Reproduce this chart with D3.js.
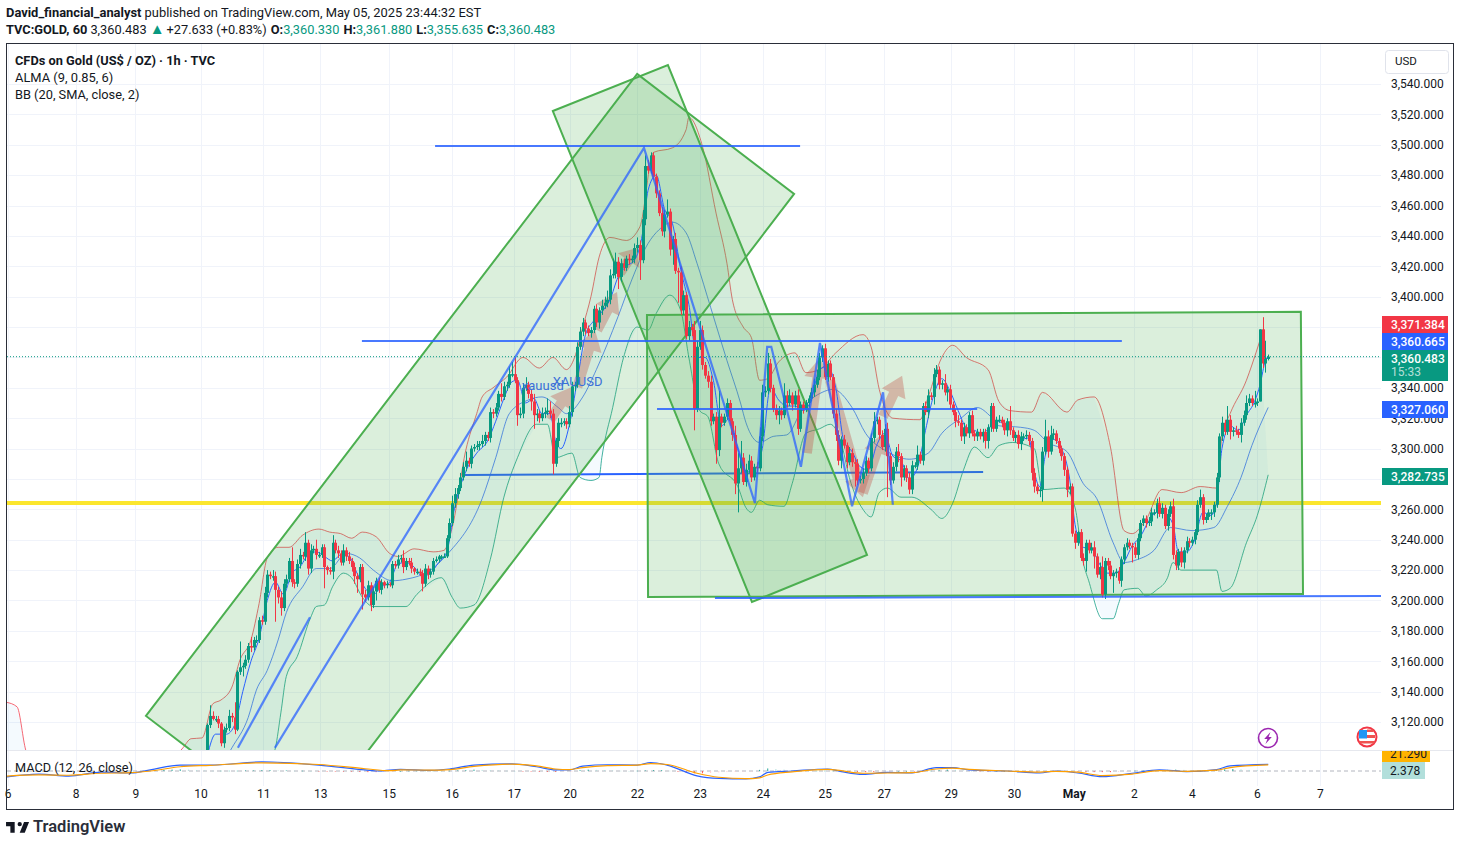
<!DOCTYPE html>
<html>
<head>
<meta charset="utf-8">
<script src="https://cdn.jsdelivr.net/npm/d3@7"></script>
<style>
html,body{margin:0;padding:0;background:#fff;}
svg{display:block;}
text{font-family:Roboto,"Liberation Sans",sans-serif;fill:#131722;}
</style>
</head>
<body>
<svg id="chart" width="1460" height="846"></svg>
<script>
// hourly closes. open of a bar = close of the bar before
var closes = [
3095,3118,3124,3122,3122,3119,3106,3115,3116,3124,
3123,3115,3153,3156,3157,3161,3170,3169,3174,3174,
3187,3186,3205,3217,3216,3216,3207,3202,3195,3211,
3214,3226,3212,3211,3224,3230,3229,3238,3221,3233,
3234,3230,3230,3235,3222,3220,3219,3238,3233,3231,
3225,3233,3229,3226,3222,3216,3214,3222,3204,3202,
3210,3197,3206,3213,3207,3212,3210,3211,3210,3224,
3223,3227,3228,3222,3226,3225,3221,3219,3219,3218,
3211,3221,3217,3219,3226,3227,3229,3229,3229,3241,
3251,3264,3270,
3274,3281,3288,3292,3290,3300,3301,3302,3303,3305,
3309,3307,3324,3323,3327,3336,3334,3341,3342,3349,
3349,3345,3322,3323,3340,3342,3336,3331,3322,3323,
3320,3323,3324,3325,3323,3290,3305,3317,3317,3318,
3316,3324,3341,3342,3367,3377,3383,3379,3376,3378,
3392,3383,3391,3394,3396,3398,3414,3415,3423,3413,
3422,3419,3425,3424,3425,3432,3434,3424,3451,3486,
3483,3493,3479,3468,3455,3443,3454,3456,3431,3438,
3417,3416,3391,3401,3374,3380,3378,
3326,3367,3378,3355,3348,3344,3318,3321,3299,3321,3317,
3321,3330,3318,3309,3277,3287,3294,3278,3286,3292,
3281,3288,3287,3308,3337,3338,3356,3340,3326,3322,
3325,3322,3335,3330,3335,3329,3335,3313,3329,3326,
3330,3333,3337,3342,3347,3360,3366,3347,3356,3347,
3323,3309,3292,3306,3302,3291,3297,3291,3290,3279,
3280,3284,3292,3287,3307,3318,3319,3309,3301,3313,
3295,3279,3288,3298,3295,3281,3287,3281,3273,3289,
3289,3296,3292,3328,3324,3335,3334,3349,3352,3342,
3343,3337,3339,3329,3324,3318,3317,3308,3314,3310,
3322,3310,3308,3311,3308,3311,3305,3314,3328,3313,3319,
3319,3317,3312,3318,3312,3307,3309,3303,3308,3308,
3309,3305,3284,3275,3272,3273,3298,3308,3298,3309,
3310,3305,3300,3295,3286,3273,3275,3244,3238,3245,
3228,3226,3238,3233,3235,3229,3217,3222,3204,3226,
3223,3216,3218,3219,3213,3227,3235,3238,3236,3235,
3230,3241,3251,3254,3251,3252,3258,3258,3264,3257,
3261,3249,3257,3262,3230,3223,3232,3225,3233,3239,
3238,3240,3245,3263,3268,3253,3255,3258,3258,3263,
3281,3308,3317,3311,3319,3311,3312,3311,3309,3317,
3322,3330,3333,3330,3330,3331,3378.5,3356,3359,3360.483
];
// wick length above the body, same order as closes
var wickUp = [
0,1,7,3,2,2,1,2,3,4,
2,10,1,17,2,3,2,6,2,3,
2,3,4,3,2,4,3,2,4,3,
3,2,9,2,3,4,2,7,2,4,
2,6,2,2,2,1,2,5,2,3,
2,4,2,3,2,3,2,2,2,3,
3,2,3,2,2,2,1,2,1,2,
2,3,2,5,2,2,3,1,2,2,
2,3,2,2,2,2,1,1,2,2,
3,5,4,
2,3,3,6,2,2,2,3,2,4,
2,2,3,2,3,2,7,3,2,5,
8,11,2,4,3,5,2,3,5,3,
2,4,3,8,6,3,2,3,3,2,
2,4,3,2,3,3,3,2,2,2,
2,3,2,4,4,6,4,10,6,3,
3,3,2,3,2,3,5,3,6,7,
4,2,2,2,2,4,3,8,2,2,
4,2,4,3,2,4,2,
6,4,6,3,2,3,4,2,3,17,2,
2,3,2,2,6,10,11,3,4,4,
3,2,3,6,5,3,7,3,2,3,
3,2,8,3,4,2,3,4,2,2,
2,2,3,4,5,3,2,3,2,2,
2,3,3,2,3,2,4,3,2,3,
2,3,3,2,3,6,2,2,3,3,
4,2,3,3,5,2,2,2,3,3,
2,6,2,2,3,4,2,4,3,2,
2,6,2,3,2,2,4,2,3,2,
2,3,2,2,2,2,2,2,2,2,2,
3,2,2,2,10,2,2,3,3,2,
3,2,2,3,2,2,3,11,4,6,
3,2,2,2,2,2,2,2,2,1,
2,3,2,2,3,4,2,3,7,2,
2,3,2,2,3,2,2,3,2,2,
3,3,2,2,2,3,3,2,3,4,
3,2,3,3,5,3,2,3,2,3,
2,2,2,3,5,2,2,2,2,2,
3,2,4,2,9,3,2,3,2,3,
3,5,3,2,8,2,0,8,12,1.4
];
// wick length below the body
var wickDn = [
0,2,2,1,2,3,2,3,2,2,
3,3,1,2,6,2,2,3,2,2,
2,2,2,3,2,3,21,4,5,2,
3,2,3,3,2,3,2,3,4,3,
2,3,2,2,14,3,2,5,2,3,
2,2,3,2,3,5,9,2,10,3,
2,4,2,6,2,3,2,2,1,2,
2,2,2,4,2,2,3,2,2,2,
5,2,3,2,2,1,2,2,1,1,
2,2,3,
3,2,2,3,2,3,2,2,3,2,
3,2,3,3,2,2,3,2,3,2,
2,2,7,2,3,2,3,6,9,4,
3,2,3,2,3,7,2,4,3,2,
3,2,3,3,2,2,3,4,2,3,
2,3,4,3,2,3,3,2,3,8,
3,2,2,3,2,3,3,13,2,4,
2,2,2,3,2,3,4,2,4,10,
2,20,3,3,2,3,4,
14,2,2,3,2,4,3,2,9,4,3,
2,2,3,4,7,19,3,2,3,2,
3,2,3,2,3,3,2,3,2,3,
6,3,2,3,2,4,2,4,2,3,
2,3,2,3,2,2,3,2,3,2,
3,4,3,5,2,4,2,3,15,3,
2,3,2,3,2,3,2,3,2,3,
27,3,2,3,4,6,2,3,3,3,
2,3,2,3,2,4,2,5,2,3,
3,2,6,3,2,4,2,3,5,2,
3,2,3,3,2,4,5,5,3,2,2,
2,3,3,4,3,2,3,3,4,3,
2,3,5,4,2,4,8,2,4,2,
3,2,3,3,4,5,3,2,4,2,
2,3,7,2,2,8,2,3,2,3,
3,2,11,3,2,4,3,2,2,10,
2,3,2,2,3,2,3,2,4,2,
3,2,3,2,3,3,3,3,4,2,
3,2,3,2,2,3,2,2,5,3,
2,3,3,2,2,5,3,2,2,5,
2,3,2,2,3,2,0,3,6,1
];

// bollinger bands and alma, [bar, price] vertices
var bbUpper = [[-73,3133],[-69,3130],[-66,3103],[-60,3075],[-30,3060],[-8,3103],[-5,3109],[-1,3109.5],[3,3132],[6,3134.5],[10,3143],[13,3161],[17,3174],[20,3198],[23,3228],[27,3235],[31,3235],[36,3243],[42,3247],[46,3245],[50,3244],[54,3241],[58,3245],[63,3242],[68,3231],[71,3229],[77,3234],[84,3232],[88,3233],[91,3248],[96,3299],[100,3323],[102,3334],[106,3340],[111,3347],[117,3360],[123,3353],[128,3360],[133,3352],[136,3360],[139,3380],[142,3400],[145,3426],[149,3439],[155,3437],[160,3446],[165,3495],[172,3498],[177,3510],[178,3518],[183,3499],[188,3455],[192,3422],[194,3398],[198,3380],[201,3373],[204,3345],[207,3346],[211,3357],[217,3363],[221,3350],[226,3352],[232,3363],[242,3375],[245,3367],[248,3339],[253,3320],[263,3319],[266,3334],[271,3360],[275,3368],[280,3360],[288,3352],[292,3331],[296,3325],[304,3324],[308,3337],[317,3324],[321,3332],[327,3334],[333,3301],[338,3246],[341,3244],[346,3253],[352,3273],[359,3271],[366,3275],[372,3274],[374,3308],[377,3323],[383,3345],[385,3355],[388,3371.384]];
var bbBasis = [[-10,3050],[10,3103],[16,3123],[19,3141],[23,3154],[27,3174],[30,3192],[36,3209],[41,3221],[46,3221],[52,3231],[57,3228],[62,3220],[69,3213],[74,3214],[83,3220],[89,3230],[102,3267],[107,3294],[112,3323],[119,3332],[124,3334],[130,3327],[133,3323],[139,3334],[144,3352],[152,3387],[157,3411],[163,3435],[167,3444],[172,3449],[177,3442],[181,3422],[186,3393],[192,3358],[197,3330],[199,3317],[204,3304],[209,3308],[214,3309],[220,3327],[227,3337],[231,3339],[238,3327],[243,3310],[251,3298],[259,3293],[266,3297],[271,3310],[278,3320],[284,3327],[289,3321],[292,3315],[300,3314],[305,3312],[310,3304],[317,3298],[323,3277],[328,3267],[334,3238],[338,3225],[343,3227],[349,3233],[355,3248],[363,3246],[371,3248],[376,3262],[381,3281],[385,3302],[391,3327.06]];
var bbLower = [[-73,3040],[10,3040],[26,3103],[28,3126],[30,3150],[34,3163],[39,3189],[41,3196],[44,3197],[47,3209],[51,3218],[54,3215],[58,3202],[62,3196],[74,3196],[78,3204],[87,3215],[91,3202],[94,3195],[99,3197],[105,3227],[110,3268],[115,3294],[122,3316],[126,3316],[129,3294],[135,3297],[138,3281],[142,3279],[145,3281],[146,3294],[150,3327],[154,3360],[159,3380],[163,3378],[166,3389],[171,3401],[175,3391],[178,3360],[182,3325],[185,3321],[189,3290],[196,3275],[199,3261],[201,3258],[204,3266],[207,3263],[213,3262],[216,3277],[221,3310],[226,3313],[230,3316],[234,3304],[237,3281],[242,3260],[245,3255],[248,3271],[251,3274],[256,3268],[260,3268],[267,3260],[271,3254],[275,3264],[279,3286],[283,3301],[288,3294],[292,3302],[297,3304],[305,3300],[308,3273],[316,3274],[320,3261],[323,3225],[325,3213],[330,3188],[334,3188],[336,3198],[338,3207],[343,3208],[346,3203],[350,3207],[354,3215],[356,3225],[359,3220],[372,3220],[374,3206],[377,3208],[383,3238],[387,3256],[391,3282.735]];
var alma = [[1,3098],[4,3112],[8,3112],[11,3118],[14,3140],[17,3160],[20,3175],[23,3200],[26,3212],[29,3204],[32,3218],[35,3222],[38,3230],[41,3232],[44,3229],[47,3226],[50,3230],[53,3229],[56,3218],[59,3208],[62,3204],[65,3209],[68,3212],[71,3224],[74,3225],[77,3222],[80,3216],[83,3218],[86,3225],[89,3232],[92,3262],[96,3285],[100,3297],[104,3305],[107,3318],[110,3333],[113,3344],[115,3345],[118,3330],[121,3333],[124,3323],[127,3323],[129,3305],[131,3300],[134,3315],[137,3345],[140,3375],[143,3384],[146,3390],[149,3398],[152,3413],[155,3420],[158,3424],[161,3442],[163,3470],[166,3480],[169,3458],[172,3448],[175,3418],[178,3395],[181,3360],[184,3360],[187,3345],[190,3315],[193,3320],[196,3300],[199,3285],[202,3286],[205,3300],[208,3340],[211,3332],[214,3328],[217,3328],[220,3325],[223,3332],[226,3352],[229,3354],[232,3340],[235,3305],[238,3298],[241,3288],[244,3286],[247,3302],[250,3310],[253,3295],[256,3292],[259,3280],[262,3287],[265,3312],[268,3335],[271,3346],[274,3338],[277,3325],[280,3314],[283,3312],[286,3310],[289,3315],[291,3318],[294,3316],[297,3312],[300,3306],[303,3307],[305,3285],[307,3275],[309,3295],[312,3306],[315,3300],[318,3280],[320,3250],[323,3235],[326,3234],[329,3224],[332,3218],[335,3218],[338,3225],[341,3236],[344,3242],[347,3252],[350,3258],[353,3257],[356,3250],[358,3232],[361,3232],[364,3240],[367,3258],[370,3256],[372,3264],[374,3300],[377,3315],[380,3312],[383,3322],[386,3331],[388,3342],[390,3358],[391,3360.665]];

// macd pane
var macdLine = [[-73,-21],[-61,-11],[-50,-18],[-38,-4],[-27,-7],[-20,4],[-9,21],[2,21],[21,32],[42,21],[59,4],[64,0],[72,6],[83,2],[90,7],[99,21],[113,25],[122,15],[129,4],[134,4],[139,17],[148,22],[159,21],[164,30],[170,21],[181,-17],[189,-26],[199,-28],[204,-21],[207,-5],[216,0],[229,7],[234,-2],[242,-12],[251,-5],[260,-7],[269,12],[275,12],[281,4],[295,0],[307,-7],[313,0],[321,-7],[330,-20],[341,-8],[351,4],[361,-2],[372,5],[377,18],[391,23.67]];
var macdSignal = [[-73,-18],[-61,-14],[-50,-15],[-38,-8],[-27,-6],[-20,0],[-9,15],[2,20],[21,29],[42,23],[59,8],[68,1],[72,4],[83,3],[90,5],[99,16],[113,24],[122,18],[129,7],[134,5],[139,12],[148,19],[159,21],[164,26],[170,23],[181,-8],[189,-22],[199,-27],[204,-24],[207,-14],[216,-3],[229,6],[234,1],[242,-8],[251,-7],[260,-6],[269,7],[275,10],[281,6],[295,0],[307,-4],[313,-1],[321,-4],[330,-16],[341,-11],[351,1],[361,-1],[372,3],[377,12],[391,21.29]];
var histStart = -21, histStep = 3;
var macdHist = [3,3,4,5,6,5,3,2,1,1,1,1,2,2,3,3,2,2,1,1,0,-1,-1,-1,-2,-2,-3,-4,-4,-3,-2,0,1,1,1,1,0,1,2,3,5,4,3,2,1,0,-1,-2,-3,-3,-3,-2,-1,3,5,4,3,2,1,0,1,2,3,3,1,-3,-6,-8,-8,-7,-5,-4,-3,-2,-1,4,9,7,5,3,2,1,1,1,1,-2,-2,-3,-4,-4,-2,-1,0,0,-1,-1,1,3,5,4,2,0,-1,-1,0,0,0,-1,-1,-2,-2,-1,0,-1,-2,-3,-4,-4,-4,-3,-1,1,2,3,3,4,5,4,3,1,1,3,6,7,6,4,3,2.4];

// axis ticks
var priceTicks = [3120,3140,3160,3180,3200,3220,3240,3260,3280,3300,3320,3340,3360,3380,3400,3420,3440,3460,3480,3500,3520,3540];
var timeLabels = ["6","8","9","10","11","13","15","16","17","20","22","23","24","25","27","29","30","May","2","4","6","7"];
var timeBars = [-72.5,-47.5,-25.5,-1.5,21.5,42.5,67.7,90.8,113.6,134.2,158.9,182,205.2,228,249.7,274.3,297.5,319.5,341.6,362.9,386.8,410];

// drawings, corners and ends as [bar, price]
var channels = [
  [[-21.6,3124],[159,3546.6],[216.7,3467.6],[36.1,3045]],
  [[128,3522.2],[170.3,3552.5],[243.5,3230],[201.2,3199]],
  [[162.6,3388],[403,3390],[403.8,3204.3],[163,3202.3]]
];
var levelLow = [[95.3,3282.6],[286.2,3284.6]];
var levels = [
  [[84.7,3499.2],[218.9,3499.2]],
  [[57.8,3370.8],[337.2,3370.8]],
  [[166.3,3326],[284,3326]],
  [[187.6,3201.6],[432.5,3203]]
];
var zigzags = [
  [[25.8,3103],[161.5,3498],[202.3,3264],[206.8,3367],[208.3,3367],[219.2,3288],[226.2,3369.5],[238,3262],[249.4,3337],[253,3263]],
  [[12.2,3103],[38.7,3189]]
];
var arrows = [
  [[127,3319],[135,3340.5]],
  [[137,3340.5],[143.5,3378]],
  [[144.3,3378],[151.6,3403]],
  [[152.7,3415.6],[159,3432]],
  [[221.4,3297],[226.2,3359.6]],
  [[229.9,3345],[242,3268]],
  [[242,3270.7],[249.4,3310]],
  [[249.4,3321],[256.4,3348]]
];
var supportPrice = 3264.2;
var lastPrice = 3360.483;

// price tags on the axis
var tagLabels = ["3,371.384","3,360.665","3,360.483","3,327.060","3,282.735"];
var tagColors = ["#f23645","#2962ff","#089981","#2962ff","#089981"];

var svg = d3.select("#chart");
var paneLeft = 7, paneRight = 1381, paneTop = 44, paneEnd = 751, macdEnd = 786;

var x = d3.scaleLinear().domain([0,391]).range([204.7,1268.2]);
var y = d3.scaleLinear().domain([3540,3120]).range([84,722]);
var macdY = d3.scaleLinear().domain([-30,30]).range([779.5,762.5]);

var defs = svg.append("defs");
defs.append("clipPath").attr("id","paneClip").append("rect")
  .attr("x",paneLeft).attr("y",paneTop).attr("width",paneRight-paneLeft).attr("height",paneEnd-paneTop-1);
defs.append("clipPath").attr("id","macdClip").append("rect")
  .attr("x",paneLeft).attr("y",paneEnd).attr("width",paneRight-paneLeft).attr("height",macdEnd-paneEnd);
defs.append("clipPath").attr("id","macdTagClip").append("rect")
  .attr("x",paneRight).attr("y",paneEnd).attr("width",80).attr("height",macdEnd-paneEnd);

var line = d3.line().x(function(d){return x(d[0])}).y(function(d){return y(d[1])});
var smooth = d3.line().x(function(d){return x(d[0])}).y(function(d){return y(d[1])}).curve(d3.curveMonotoneX);
var macdPath = d3.line().x(function(d){return x(d[0])}).y(function(d){return macdY(d[1])}).curve(d3.curveMonotoneX);

// grid
var grid = svg.append("g").attr("stroke","#f0f3fa").attr("stroke-width",1);
grid.selectAll(".h").data(priceTicks).enter().append("line")
  .attr("x1",paneLeft).attr("x2",paneRight)
  .attr("y1",function(d){return Math.round(y(d))+0.5}).attr("y2",function(d){return Math.round(y(d))+0.5});
grid.selectAll(".v").data(timeBars).enter().append("line")
  .attr("x1",function(d){return Math.round(x(d))+0.5}).attr("x2",function(d){return Math.round(x(d))+0.5})
  .attr("y1",paneTop).attr("y2",macdEnd);

var pane = svg.append("g").attr("clip-path","url(#paneClip)");

// support line sits under the boxes, that is why it looks dull inside them
pane.append("line")
  .attr("x1",paneLeft).attr("x2",paneRight).attr("y1",y(supportPrice)).attr("y2",y(supportPrice))
  .attr("stroke","#fbe62e").attr("stroke-width",4);

// bb fill and lines
pane.append("path")
  .attr("d",line(bbUpper.concat(bbLower.slice().reverse()))+"Z")
  .attr("fill","#2196f3").attr("fill-opacity",0.05);
pane.append("path").attr("d",smooth(bbUpper)).attr("fill","none").attr("stroke","#f23645").attr("stroke-opacity",0.75);
pane.append("path").attr("d",smooth(bbBasis)).attr("fill","none").attr("stroke","#2962ff").attr("stroke-opacity",0.75);
pane.append("path").attr("d",smooth(bbLower)).attr("fill","none").attr("stroke","#089981").attr("stroke-opacity",0.75);

pane.append("path").attr("d",line(levelLow)).attr("fill","none").attr("stroke","#2962ff").attr("stroke-width",2);

// green boxes
pane.selectAll(".channel").data(channels).enter().append("path")
  .attr("d",function(d){return line(d)+"Z"})
  .attr("fill","#4caf50").attr("fill-opacity",0.2)
  .attr("stroke","#4caf50").attr("stroke-width",2);

// brown arrows
function arrowShape(a){
  var x0=x(a[0][0]), y0=y(a[0][1]), x1=x(a[1][0]), y1=y(a[1][1]);
  var len=Math.sqrt((x1-x0)*(x1-x0)+(y1-y0)*(y1-y0));
  var ux=(x1-x0)/len, uy=(y1-y0)/len, nx=-uy, ny=ux;
  var head=Math.min(20,len*0.5), sw=5, hw=13;
  var bx=x1-ux*head, by=y1-uy*head;
  return "M"+(x0+nx*sw)+","+(y0+ny*sw)+"L"+(bx+nx*sw)+","+(by+ny*sw)+"L"+(bx+nx*hw)+","+(by+ny*hw)+"L"+x1+","+y1
    +"L"+(bx-nx*hw)+","+(by-ny*hw)+"L"+(bx-nx*sw)+","+(by-ny*sw)+"L"+(x0-nx*sw)+","+(y0-ny*sw)+"Z";
}
pane.selectAll(".arrow").data(arrows).enter().append("path")
  .attr("d",arrowShape)
  .attr("fill","#c0483c").attr("fill-opacity",0.33);

// alma
pane.append("path").attr("d",smooth(alma)).attr("fill","none").attr("stroke","#2962ff").attr("stroke-width",1);

// candles
var bars = closes.map(function(c,i){
  var o = i==0 ? c : closes[i-1];
  return {i:i,o:o,c:c,h:Math.max(o,c)+(wickUp[i]||0),l:Math.min(o,c)-(wickDn[i]||0)};
});
function barColor(d){ return d.c>=d.o ? "#089981" : "#f23645"; }
pane.selectAll(".wick").data(bars).enter().append("line")
  .attr("x1",function(d){return Math.round(x(d.i))+0.5}).attr("x2",function(d){return Math.round(x(d.i))+0.5})
  .attr("y1",function(d){return y(d.h)}).attr("y2",function(d){return y(d.l)})
  .attr("stroke",barColor).attr("stroke-width",1);
pane.selectAll(".body").data(bars).enter().append("rect")
  .attr("x",function(d){return Math.round(x(d.i))-1}).attr("width",3)
  .attr("y",function(d){return y(Math.max(d.o,d.c))})
  .attr("height",function(d){return Math.max(1.5,Math.abs(y(d.o)-y(d.c)))})
  .attr("fill",barColor);

// blue lines
pane.selectAll(".level").data(levels).enter().append("path")
  .attr("d",line).attr("fill","none").attr("stroke","#2962ff").attr("stroke-opacity",0.85).attr("stroke-width",2);
pane.selectAll(".zig").data(zigzags).enter().append("path")
  .attr("d",line).attr("fill","none").attr("stroke","#2962ff").attr("stroke-opacity",0.75).attr("stroke-width",2.2);

// last price dotted
svg.append("line")
  .attr("x1",paneLeft).attr("x2",paneRight).attr("y1",y(lastPrice)).attr("y2",y(lastPrice))
  .attr("stroke","#089981").attr("stroke-width",1).attr("stroke-dasharray","1 2");

// small notes on the chart
pane.append("text").attr("x",x(116.6)).attr("y",y(3338.5)).attr("font-size",13).style("fill","#3a6fd8").text("xauusd");
pane.append("text").attr("x",x(128)).attr("y",y(3341)).attr("font-size",13).style("fill","#3a6fd8").text("XAUUSD");

// macd
var macdPane = svg.append("g").attr("clip-path","url(#macdClip)");
macdPane.append("line").attr("x1",paneLeft).attr("x2",paneRight).attr("y1",macdY(0)).attr("y2",macdY(0))
  .attr("stroke","#b2b5be").attr("stroke-dasharray","4 3");
macdPane.selectAll(".hist").data(macdHist).enter().append("rect")
  .attr("x",function(d,i){return x(histStart+i*histStep)-0.5}).attr("width",1)
  .attr("y",function(d){return Math.min(macdY(0),macdY(d))})
  .attr("height",function(d){return Math.max(0.6,Math.abs(macdY(d)-macdY(0)))})
  .attr("fill",function(d,i){
    var prev = i==0 ? 0 : macdHist[i-1];
    if(d>=0) return d>=prev ? "#26a69a" : "#b2dfdb";
    return d<=prev ? "#ff5252" : "#ffcdd2";
  });
macdPane.append("path").attr("d",macdPath(macdLine)).attr("fill","none").attr("stroke","#2962ff").attr("stroke-width",1.2);
macdPane.append("path").attr("d",macdPath(macdSignal)).attr("fill","none").attr("stroke","#ff9f00").attr("stroke-width",1.2);

svg.append("line").attr("x1",paneLeft).attr("x2",1453).attr("y1",paneEnd-0.5).attr("y2",paneEnd-0.5).attr("stroke","#e6e8ee");

// axes
var priceAxis = d3.axisRight(y).tickValues(priceTicks).tickFormat(d3.format(",.3f")).tickSize(0).tickPadding(10);
var ga = svg.append("g").attr("transform","translate("+paneRight+",0)").call(priceAxis);
ga.select(".domain").remove();
ga.selectAll("text").attr("font-size",12).style("font-family","Roboto,sans-serif").style("fill","#131722");

var timeAxis = d3.axisBottom(x).tickValues(timeBars).tickFormat(function(d,i){return timeLabels[i]}).tickSize(0).tickPadding(3);
var gt = svg.append("g").attr("transform","translate(0,"+macdEnd+")").call(timeAxis);
gt.select(".domain").remove();
gt.selectAll("text").attr("font-size",12).style("font-family","Roboto,sans-serif").style("fill","#131722")
  .style("font-weight",function(d,i){return timeLabels[i]=="May"?"700":"400"});

// right side tags
var tagH = [17,17,31,17,17];
var tagTop = [316,333,350,401,468];
var tags = svg.append("g");
tagLabels.forEach(function(t,i){
  tags.append("rect").attr("x",1382).attr("y",tagTop[i]).attr("width",66).attr("height",tagH[i]).attr("fill",tagColors[i]);
  tags.append("text").attr("x",1391).attr("y",tagTop[i]+13).attr("font-size",12).style("font-weight",500).style("fill","#fff").text(t);
});
tags.append("text").attr("x",1391).attr("y",376).attr("font-size",12).style("fill","#ffffff").style("fill-opacity",0.7).text("15:33");

var macdTags = svg.append("g").attr("clip-path","url(#macdTagClip)");
macdTags.append("rect").attr("x",1382).attr("y",746).attr("width",48).attr("height",16).attr("fill","#ffb300");
macdTags.append("text").attr("x",1390).attr("y",758).attr("font-size",12).text("21.290");
macdTags.append("rect").attr("x",1382).attr("y",762).attr("width",43).attr("height",17).attr("fill","#b2dfdb");
macdTags.append("text").attr("x",1390).attr("y",775).attr("font-size",12).text("2.378");

// currency box
svg.append("rect").attr("x",1385.5).attr("y",50.5).attr("width",63).attr("height",23).attr("rx",3)
  .attr("fill","#fff").attr("stroke","#e0e3eb");
svg.append("text").attr("x",1395).attr("y",65).attr("font-size",11.5).text("USD");

// legends
svg.append("text").attr("x",15).attr("y",65).attr("font-size",12.8).style("font-weight",700).text("CFDs on Gold (US$ / OZ) \u00b7 1h \u00b7 TVC");
svg.append("text").attr("x",15).attr("y",82).attr("font-size",12.9).text("ALMA (9, 0.85, 6)");
svg.append("text").attr("x",15).attr("y",99).attr("font-size",12.8).text("BB (20, SMA, close, 2)");
svg.append("text").attr("x",15).attr("y",772).attr("font-size",12.7).text("MACD (12, 26, close)");

// header
var h1 = svg.append("text").attr("x",6).attr("y",17).attr("font-size",12.9);
h1.append("tspan").style("font-weight",700).text("David_financial_analyst");
h1.append("tspan").text(" published on TradingView.com, May 05, 2025 23:44:32 EST");

var teal = "#089981";
var h2 = svg.append("text").attr("x",6).attr("y",34).attr("font-size",12.8);
h2.append("tspan").style("font-weight",700).text("TVC:GOLD, 60");
h2.append("tspan").attr("dx",3).text("3,360.483");
h2.append("tspan").attr("dx",3).attr("font-size",15).style("fill",teal).text("\u25b2");
h2.append("tspan").attr("dx",2).text("+27.633 (+0.83%)");
[["O:","3,360.330"],["H:","3,361.880"],["L:","3,355.635"],["C:","3,360.483"]].forEach(function(d){
  h2.append("tspan").attr("dx",4).style("font-weight",700).text(d[0]);
  h2.append("tspan").style("fill",teal).text(d[1]);
});

// event icons
var bolt = svg.append("g").attr("transform","translate(1268,738)");
bolt.append("circle").attr("r",9.5).attr("fill","#fff").attr("stroke","#9c27b0").attr("stroke-width",1.6);
bolt.append("path").attr("d","M2.5,-6 L-3.8,1 L-0.6,1 L-2.5,6 L3.8,-1 L0.6,-1 Z").attr("fill","#9c27b0");

var flag = svg.append("g").attr("transform","translate(1367,737)");
flag.append("circle").attr("r",9.5).attr("fill","#fff").attr("stroke","#f23645").attr("stroke-width",2);
flag.append("path").attr("d","M-8,-2 H8 V1 H-8 Z M-7.5,4 H7.5 V6.5 H-7.5 Z").attr("fill","#ef5350");
flag.append("path").attr("d","M0,-7.5 H6.5 V-5 H0 Z").attr("fill","#ef5350");
flag.append("path").attr("d","M-8,-7 H0 V1.5 H-8 Z").attr("fill","#2196f3");

// frame
svg.append("rect").attr("x",6.5).attr("y",43.5).attr("width",1447).attr("height",766)
  .attr("fill","none").attr("stroke","#2a2e39").attr("stroke-width",1);

// logo
svg.append("path").attr("transform","translate(4.6,817.7) scale(0.72)")
  .attr("d","M14 6H2v6h6v9h6V6zm14 15h-7l6-15h7l-6 15zm-7-9a3 3 0 1 0 0-6 3 3 0 0 0 0 6z").attr("fill","#131722");
svg.append("text").attr("x",33).attr("y",832).attr("font-size",16.5).style("font-weight",600).style("fill","#2a2e39").text("TradingView");
</script>
</body>
</html>
